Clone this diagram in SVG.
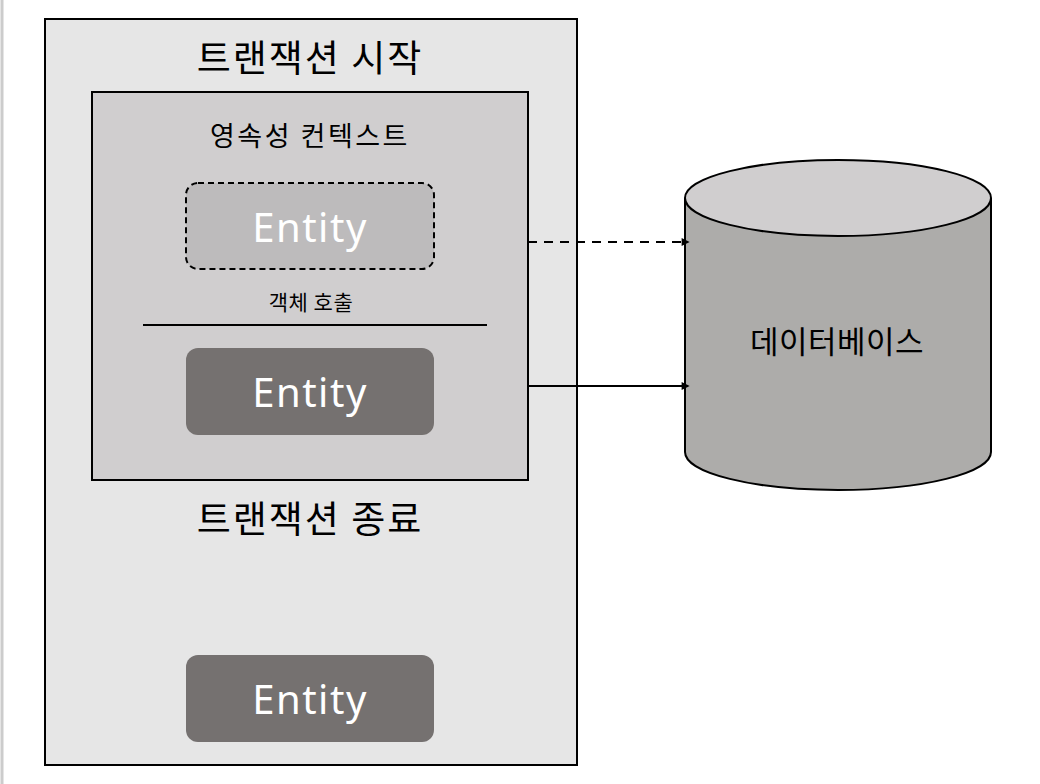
<svg xmlns="http://www.w3.org/2000/svg" width="1040" height="784" viewBox="0 0 1040 784">
<defs>
<style>
.kr{font-family:"Noto Sans CJK KR","Noto Sans",sans-serif;fill:#000;text-anchor:middle}
.ent{font-family:"Noto Sans","Noto Sans CJK KR",sans-serif;fill:#fff;text-anchor:middle;font-size:40px;letter-spacing:1.5px}
.box{stroke:#000;stroke-width:2}
.conn{stroke:#000;stroke-width:2;fill:none}
</style>
<marker id="ah" viewBox="0 0 10 10" refX="8" refY="5" markerWidth="9" markerHeight="8" orient="auto" markerUnits="userSpaceOnUse">
<path d="M0,0 L10,5 L0,10 z" fill="#000"/>
</marker>
</defs>
<rect x="0" y="0" width="1040" height="784" fill="#fff"/>
<line x1="2" y1="0" x2="2" y2="784" stroke="#cccccc" stroke-width="3"/>
<g id="transaction">
<rect class="box" x="45" y="19" width="532" height="746" fill="#e6e6e6"/>
<text class="kr" x="310" y="72" font-size="37" letter-spacing="2">트랜잭션 시작</text>
<text class="kr" x="310" y="533" font-size="37" letter-spacing="2">트랜잭션 종료</text>
</g>
<g id="persistence-context">
<rect class="box" x="92" y="92" width="436" height="388" fill="#d0cecf"/>
<text class="kr" x="310" y="146" font-size="27" letter-spacing="2.5">영속성 컨텍스트</text>
<text class="kr" x="311" y="310" font-size="21" letter-spacing="0.5">객체 호출</text>
<line x1="143" y1="325" x2="487" y2="325" stroke="#000" stroke-width="2"/>
</g>
<g id="entity-dashed">
<rect x="186" y="183" width="248" height="86" rx="12" fill="#bdbbbc" stroke="#000" stroke-width="2" stroke-dasharray="6,4"/>
<text class="ent" x="310" y="242">Entity</text>
</g>
<g id="entity-managed">
<rect x="186" y="348" width="248" height="87" rx="12" fill="#757170"/>
<text class="ent" x="310" y="407">Entity</text>
</g>
<g id="entity-detached">
<rect x="186" y="655" width="248" height="87" rx="12" fill="#757170"/>
<text class="ent" x="310" y="714">Entity</text>
</g>
<g id="database">
<path d="M685,198 L685,452 A153,38 0 0 0 991,452 L991,198" fill="#adacaa" stroke="#000" stroke-width="2"/>
<ellipse cx="838" cy="198" rx="153" ry="38" fill="#d0cecf" stroke="#000" stroke-width="2"/>
<text class="kr" x="837" y="353" font-size="31" letter-spacing="0.5">데이터베이스</text>
</g>
<g id="connectors">
<line class="conn" x1="528" y1="242" x2="688" y2="242" stroke-dasharray="9,7" marker-end="url(#ah)"/>
<line class="conn" x1="528" y1="386" x2="688" y2="386" marker-end="url(#ah)"/>
</g>
</svg>
